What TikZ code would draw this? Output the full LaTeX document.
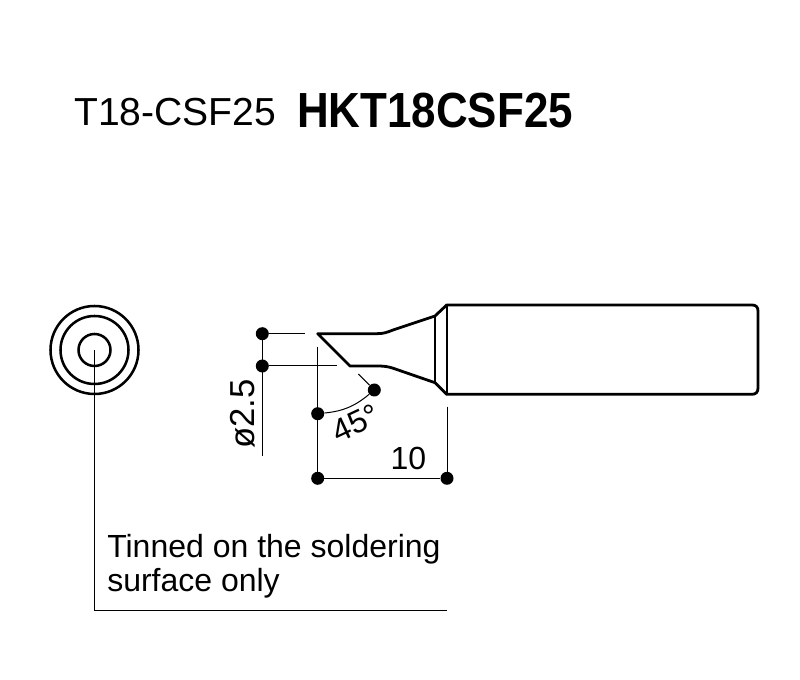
\documentclass[tikz,border=0pt]{standalone}
\usepackage{fontspec}
\setmainfont{Liberation Sans}
\usepackage{tikz}
\usetikzlibrary{positioning,calc}

\tikzset{
  dimdot/.style={draw=none, fill=black, circle, inner sep=0pt, minimum size=9.75pt},
  outline/.style={line width=2.1pt, line join=round},
  thinline/.style={line width=0.75pt},
  label/.style={inner sep=0pt, font=\fontsize{24}{24}\selectfont}
}

\begin{document}
\begin{tikzpicture}[x=0.75pt, y=-0.75pt]
      \useasboundingbox (0,0) rectangle (800,680);

      % Title
      \node[inner sep=0pt, anchor=base west, font=\fontsize{29.3}{29.3}\selectfont] (code) at (74,126) {T18-CSF25};
      \node[inner sep=0pt, anchor=base west, transform shape, xscale=0.89, font=\fontsize{37}{37}\selectfont\bfseries] (part) at (297,127.5) {HKT18CSF25};

      % End view
      \node[draw, circle, line width=1.9pt, inner sep=0pt, minimum size=66pt] (ring1) at (94.5,350) {};
      \node[draw, circle, line width=1.9pt, inner sep=0pt, minimum size=51pt] (ring2) at (94.5,350) {};
      \node[draw, circle, line width=1.9pt, inner sep=0pt, minimum size=24pt] (ring3) at (94.5,350) {};

      % Side view
      \draw[outline] (317.7,333.7) -- (376.7,333.7) .. controls (384,333.7) and (388,332) .. (393,330)
        -- (435,316) -- (446.7,305) -- (752,305) .. controls (756,305) and (758,307) .. (758,311)
        -- (758,388) .. controls (758,392) and (756,394.3) .. (752,394.3) -- (446.7,394.3) -- (435,382.7)
        -- (393.3,368.3) .. controls (388,366.5) and (384,366) .. (376.7,366) -- (350,366) -- cycle;
      \draw[line width=1.2pt] (435,316) -- (435,382.7);
      \draw[line width=1.6pt] (446.7,305) -- (446.7,394.3);

      % Dimension dots
      \node[dimdot] (top) at (262.3,333.7) {};
      \node[dimdot] (mid) at (262.3,366) {};
      \node[dimdot] (ang) at (374.3,390) {};
      \node[dimdot] (left) at (317.7,413.7) {};
      \node[dimdot] (low) at (317.7,478.3) {};
      \node[dimdot] (right) at (447,478.3) {};
      \coordinate (topend) at (305,333.7);
      \coordinate (midend) at (337.3,366);
      \coordinate (diaend) at (262.3,456);
      \coordinate (tipend) at (317.7,346.7);
      \coordinate (angend) at (358.3,374);
      \coordinate (bodyend) at (447,406.7);

      % Dimension lines
      \draw[thinline] (top) -- (topend);
      \draw[thinline] (mid) -- (midend);
      \draw[thinline] (top) -- (diaend);
      \draw[thinline] (tipend) -- (low);
      \draw[thinline] (angend) -- (ang);
      \draw[thinline] (bodyend) -- (right);
      \draw[thinline] (low) -- (right);
      \draw[thinline] (left) to[bend right=17] (ang);

      % Dimension labels
      \node[label] (len) at (408.5,458) {10};
      \node[label, rotate=25] (angle) at (356,423) {45\textdegree};
      \node[label, font=\fontsize{26}{26}\selectfont, rotate=90] (dia) at (243,414) {ø2.5};

      % Leader and note
      \coordinate (corner) at (94.5,611);
      \coordinate (noteend) at (447,611);
      \draw[thinline] (ring3.center) -- (corner) -- (noteend);
      \node[inner sep=0pt, anchor=north west, align=left, font=\fontsize{24}{25.5}\selectfont] (note) at (107,534) {Tinned on the soldering\\surface only};
\end{tikzpicture}
\end{document}
